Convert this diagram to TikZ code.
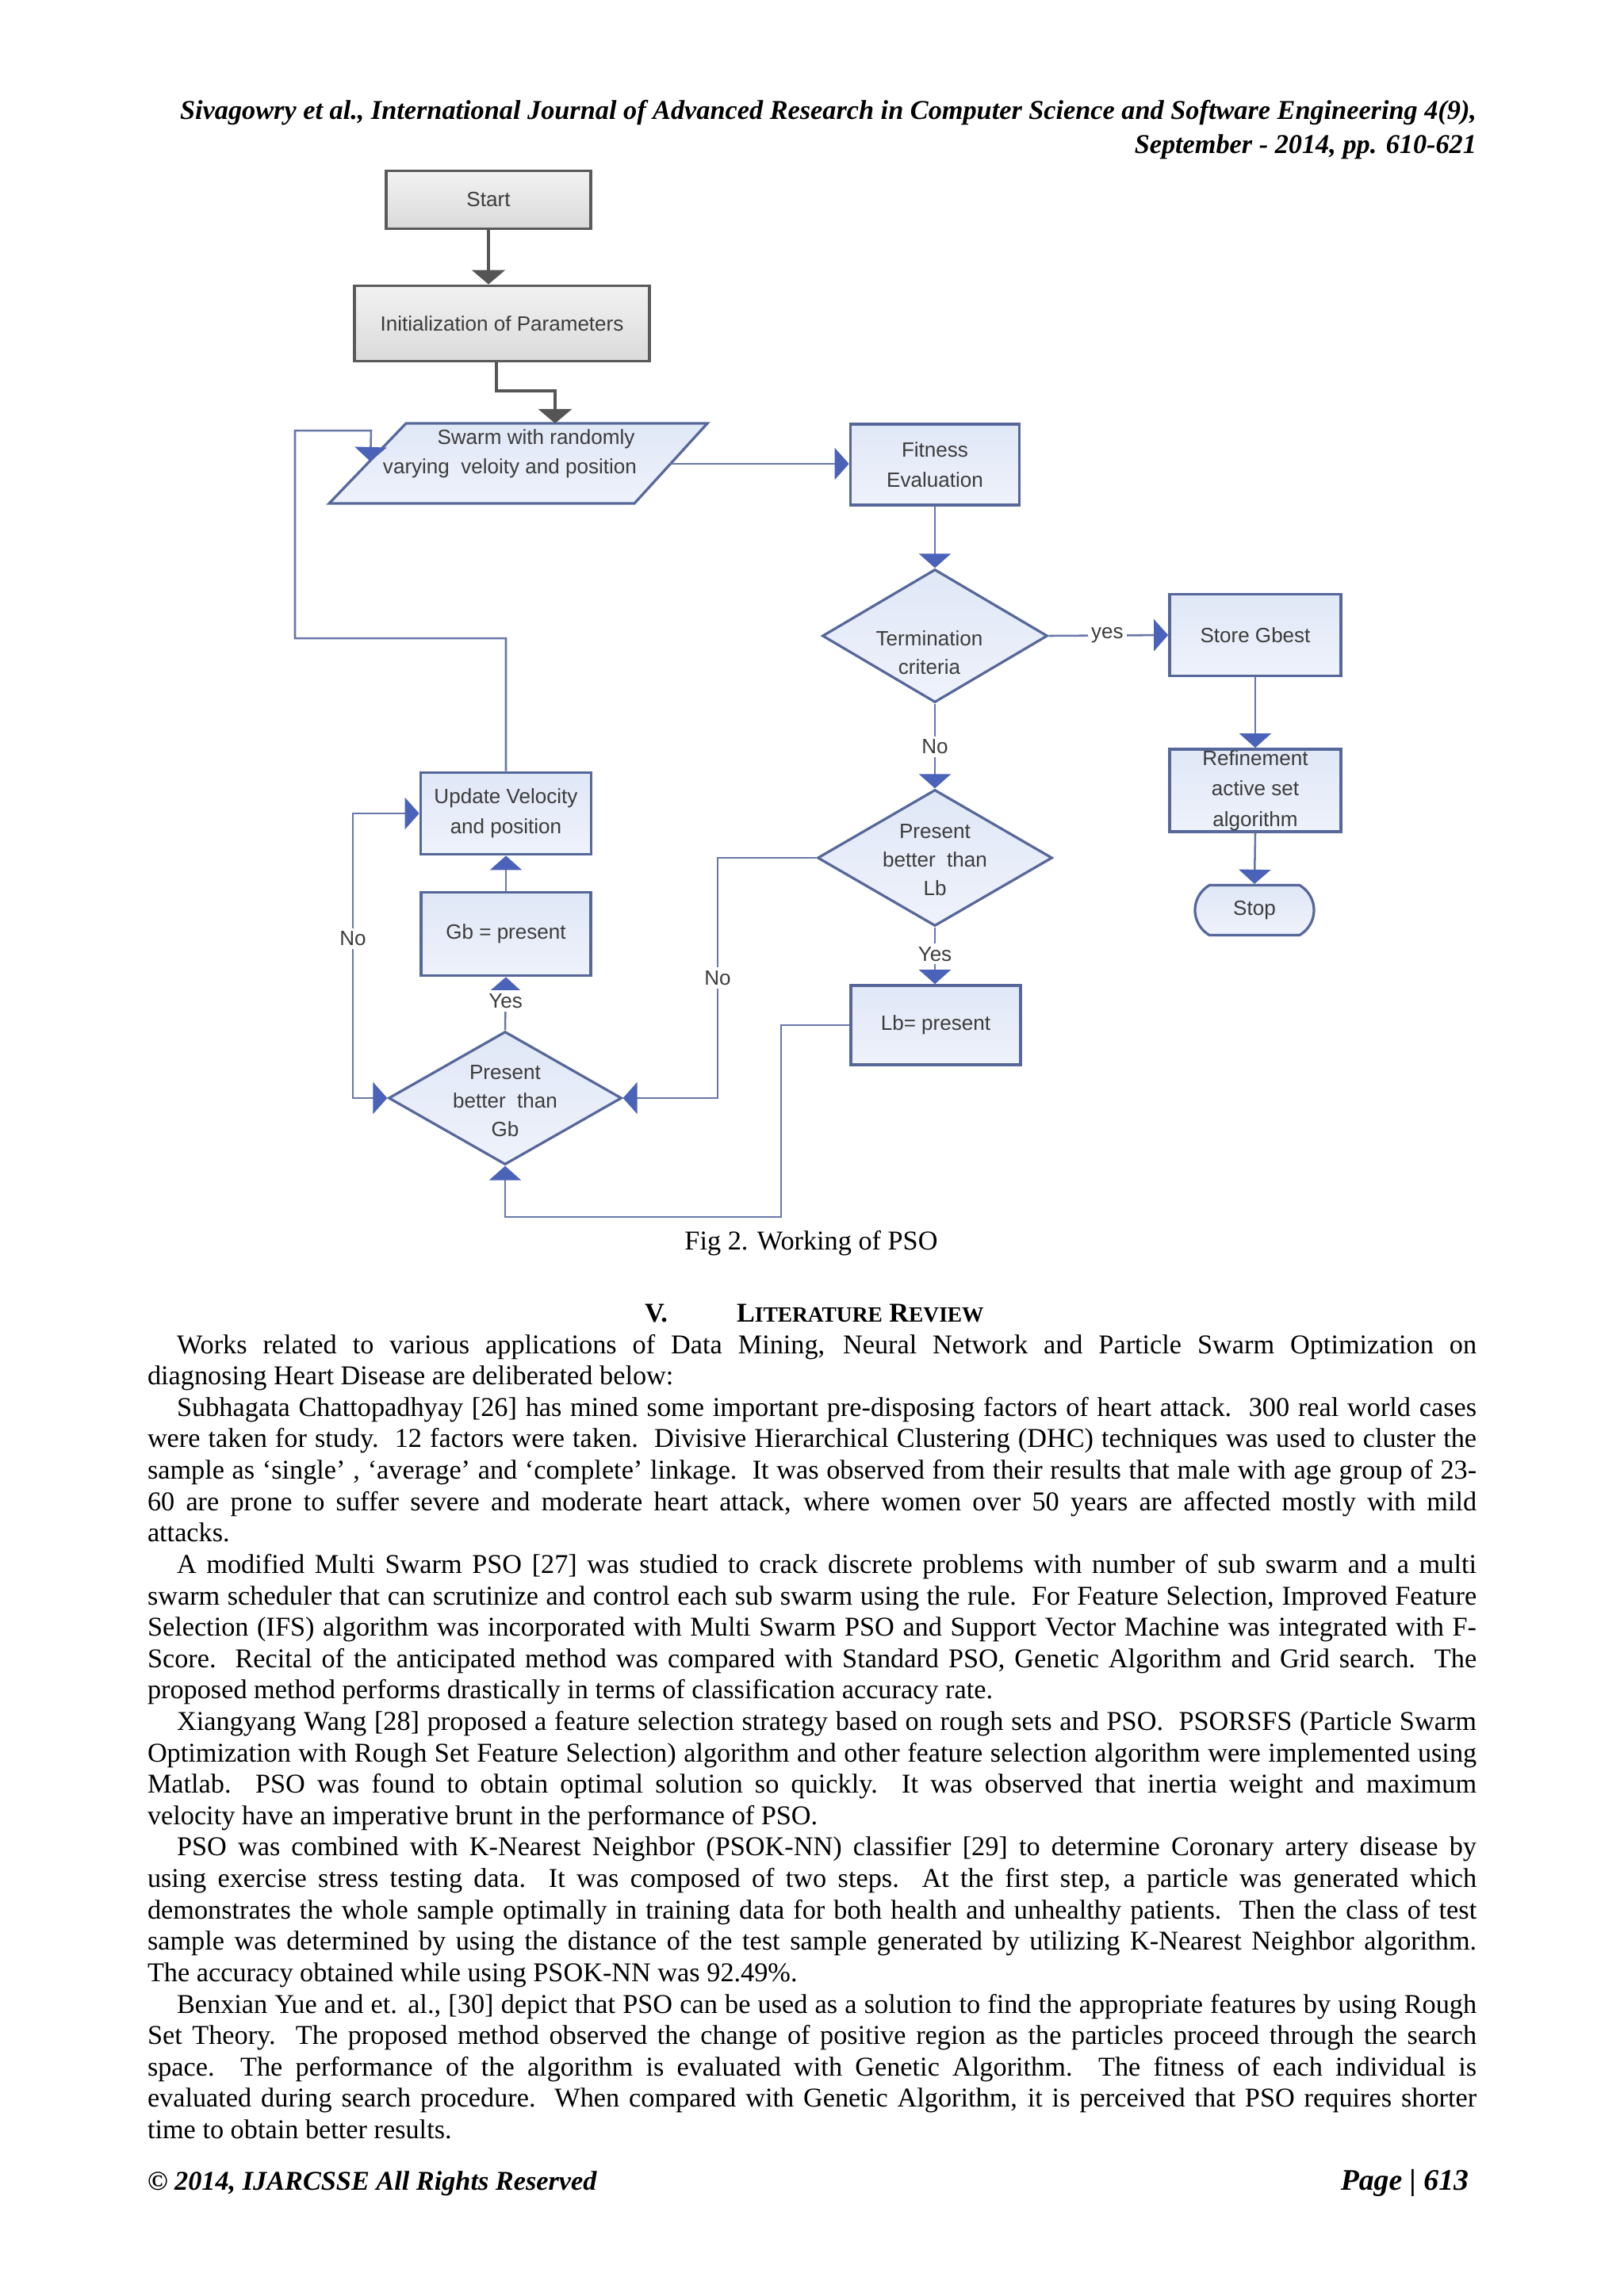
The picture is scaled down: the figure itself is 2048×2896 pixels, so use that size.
\documentclass[tikz,border=0pt]{standalone}
\usepackage{fontspec}
\setmainfont{Liberation Serif}
\newfontfamily\fcf{Liberation Sans}
\usetikzlibrary{arrows.meta,shapes.geometric,shapes.misc}
\definecolor{gborder}{HTML}{5A5A5A}
\definecolor{gtop}{HTML}{F2F2F2}
\definecolor{gbot}{HTML}{DADADA}
\definecolor{gline}{HTML}{555555}
\definecolor{bborder}{HTML}{56679A}
\definecolor{btop}{HTML}{E0E7F6}
\definecolor{bbot}{HTML}{EEF2FB}
\definecolor{clrline}{HTML}{6878A8}
\definecolor{tipblue}{HTML}{4A62B8}
\definecolor{ftxt}{HTML}{3C3C3C}
\newcommand\pxu{0.10254mm}
\newlength\pind \setlength\pind{3.8mm}
\newcommand\JL[1]{\hbox to\hsize{#1}}
\newcommand\IJL[1]{\hbox to\hsize{\hskip\pind #1}}
\newcommand\LL[1]{\hbox{#1}}
\newcommand\ILL[1]{\hbox{\hskip\pind #1}}
\tikzset{
  ft/.style={font=\fcf\fontsize{7.6}{10.5}\selectfont, text=ftxt, align=center},
  ftb/.style={font=\fcf\fontsize{7.6}{11.2}\selectfont, text=ftxt, align=center},
  gbox/.style={draw=gborder, line width=0.4mm, top color=gtop, bottom color=gbot, inner sep=0pt, ftb},
  bbox/.style={draw=bborder, line width=0.38mm, top color=btop, bottom color=bbot, inner sep=0pt, ftb},
  bdiam/.style={diamond, draw=bborder, line width=0.33mm, top color=btop, bottom color=bbot, inner sep=0pt},
  lbl/.style={ft, fill=white, inner sep=1.2pt},
  conn/.style={draw=clrline, line width=0.26mm},
  barrow/.style={conn, -{Triangle[width=4.1mm,length=1.85mm,color=tipblue]}},
  bboth/.style={conn, {Triangle[width=4.1mm,length=1.85mm,color=tipblue]}-{Triangle[width=4.1mm,length=1.85mm,color=tipblue]}},
  garrow/.style={draw=gline, line width=0.35mm, -{Triangle[width=4.3mm,length=1.85mm,color=gline]}},
  plain/.style={inner sep=0pt, outer sep=0pt},
}
\begin{document}
\begin{tikzpicture}[x=0.10254mm, y=-0.10254mm]
\useasboundingbox (0,0) rectangle (2048,2896);
\fill[white] (0,0) rectangle (2048,2896);

% header
\node[plain, anchor=base east, font=\bfseries\itshape\fontsize{10}{12}\selectfont] (hdr1) at (1862,150) {Sivagowry et al., International Journal of Advanced Research in Computer Science and Software Engineering 4(9),};
\node[plain, anchor=base east, font=\bfseries\itshape\fontsize{10}{12}\selectfont] (hdr2) at (1862,193) {September - 2014, pp. 610-621};

% flowchart nodes
\node[gbox, minimum width=258*\pxu, minimum height=73*\pxu] (start) at (616,252) {Start};
\node[gbox, minimum width=372*\pxu, minimum height=95*\pxu] (init) at (633,408) {Initialization of Parameters};

\shadedraw[draw=bborder, line width=0.33mm, top color=btop, bottom color=bbot] (415,635) -- (512,534) -- (892,534) -- (800,635) -- cycle;
\coordinate (swT) at (700,534);
\coordinate (swR) at (845,585);
\coordinate (swL) at (467,582);
\node[ft] (swarm1) at (676,554) {Swarm with randomly};
\node[ft] (swarm2) at (643,591) {varying\ \ veloity and position};

\node[bbox, minimum width=213*\pxu, minimum height=102*\pxu] (fit) at (1179,586) {Fitness\\Evaluation};
\node[bdiam, minimum width=284*\pxu, minimum height=168*\pxu] (term) at (1179,802) {};
\node[ft] (termtxt) at (1172,823) {Termination\\criteria};
\node[bbox, minimum width=216*\pxu, minimum height=103*\pxu] (store) at (1583,801) {Store Gbest};
\node[bbox, minimum width=216*\pxu, minimum height=104*\pxu] (refine) at (1583,997) {Refinement\\active set\\algorithm};
\node[rounded rectangle, rounded rectangle arc length=120, draw=bborder, line width=0.33mm, top color=btop, bottom color=bbot, inner sep=0pt, ft, minimum width=150*\pxu, minimum height=63*\pxu] (stop) at (1582,1148) {Stop};

\node[bdiam, minimum width=296*\pxu, minimum height=172*\pxu] (lbd) at (1179,1082) {};
\node[ft] (lbtxt) at (1179,1085) {Present\\better\ \ than\\Lb};
\node[bbox, minimum width=214*\pxu, minimum height=100*\pxu] (lbbox) at (1180,1293) {Lb= present};

\node[bbox, minimum width=215*\pxu, minimum height=103*\pxu] (update) at (638,1026) {Update Velocity\\and position};
\node[bbox, minimum width=214*\pxu, minimum height=105*\pxu] (gbbox) at (638,1178) {Gb = present};
\node[bdiam, minimum width=294*\pxu, minimum height=168*\pxu] (gbd) at (637,1385) {};
\node[ft] (gbtxt) at (637,1389) {Present\\better\ \ than\\Gb};

% connectors
\draw[garrow] (start.south) -- (start.south |- init.north);
\coordinate (c1) at (626,493);
\draw[garrow] (init.south -| c1) -- (c1) -| (swT);
\draw[barrow] (swR) -- (swR -| fit.west);
\draw[barrow] (fit.south) -- (term.north);
\draw[barrow] (term.east) -- node[lbl, pos=0.49] {yes} (store.west);
\draw[barrow] (store.south) -- (refine.north);
\draw[barrow] (refine.south) -- (stop.north);
\draw[barrow] (term.south) -- node[lbl, pos=0.51] {No} (lbd.north);
\draw[barrow] (lbd.south) -- node[lbl, pos=0.47] {Yes} (lbd.south |- lbbox.north);
\coordinate (nb) at (905,1385);
\draw[barrow] (lbd.west) -| node[lbl, pos=0.75] {No} (nb) -- (gbd.east);
\coordinate (lb1) at (985,1535);
\draw[barrow] (lbbox.west) -| (lb1) -| (gbd.south);
\draw[barrow] (gbd.north) -- node[lbl, pos=0.55] {Yes} (gbbox.south);
\draw[barrow] (gbbox.north) -- (update.south);
\coordinate (nl) at (445,1385);
\draw[bboth] (update.west) -| node[lbl, pos=0.72] {No} (nl) -- (gbd.west);
\coordinate (u1) at (372,805);
\coordinate (u2) at (468,543);
\draw[barrow] (update.north) |- (u1) |- (u2) -- (swL);

% caption and heading
\node[plain, anchor=base, font=\fontsize{10}{12}\selectfont] (cap) at (1023,1576) {Fig 2. Working of PSO};
\node[plain, anchor=base west, font=\bfseries\fontsize{10}{12}\selectfont] (secno) at (813,1667) {V.};
\node[plain, anchor=base west, font=\bfseries\fontsize{10}{12}\selectfont] (sectitle) at (929,1667) {L{\fontsize{8}{10}\selectfont ITERATURE} R{\fontsize{8}{10}\selectfont EVIEW}};

% body text
\node[plain, anchor=base west] (body) at (186,1707) {\vtop{\hsize=171.86mm \fontsize{10}{11.56}\selectfont \hbadness=10000
\IJL{Works related to various applications of Data Mining, Neural Network and Particle Swarm Optimization on}
\LL{diagnosing Heart Disease are deliberated below:}
\IJL{Subhagata Chattopadhyay [26] has mined some important pre-disposing factors of heart attack.\ \ 300 real world cases}
\JL{were taken for study.\ \ 12 factors were taken.\ \ Divisive Hierarchical Clustering (DHC) techniques was used to cluster the}
\JL{sample as ‘single’ , ‘average’ and ‘complete’ linkage.\ \ It was observed from their results that male with age group of 23-}
\JL{60 are prone to suffer severe and moderate heart attack, where women over 50 years are affected mostly with mild}
\LL{attacks.}
\IJL{A modified Multi Swarm PSO [27] was studied to crack discrete problems with number of sub swarm and a multi}
\JL{swarm scheduler that can scrutinize and control each sub swarm using the rule.\ \ For Feature Selection, Improved Feature}
\JL{Selection (IFS) algorithm was incorporated with Multi Swarm PSO and Support Vector Machine was integrated with F-}
\JL{Score.\ \ Recital of the anticipated method was compared with Standard PSO, Genetic Algorithm and Grid search.\ \ The}
\LL{proposed method performs drastically in terms of classification accuracy rate.}
\IJL{Xiangyang Wang [28] proposed a feature selection strategy based on rough sets and PSO.\ \ PSORSFS (Particle Swarm}
\JL{Optimization with Rough Set Feature Selection) algorithm and other feature selection algorithm were implemented using}
\JL{Matlab.\ \ PSO was found to obtain optimal solution so quickly.\ \ It was observed that inertia weight and maximum}
\LL{velocity have an imperative brunt in the performance of PSO.}
\IJL{PSO was combined with K-Nearest Neighbor (PSOK-NN) classifier [29] to determine Coronary artery disease by}
\JL{using exercise stress testing data.\ \ It was composed of two steps.\ \ At the first step, a particle was generated which}
\JL{demonstrates the whole sample optimally in training data for both health and unhealthy patients.\ \ Then the class of test}
\JL{sample was determined by using the distance of the test sample generated by utilizing K-Nearest Neighbor algorithm.}
\LL{The accuracy obtained while using PSOK-NN was 92.49\%.}
\IJL{Benxian Yue and et. al., [30] depict that PSO can be used as a solution to find the appropriate features by using Rough}
\JL{Set Theory.\ \ The proposed method observed the change of positive region as the particles proceed through the search}
\JL{space.\ \ The performance of the algorithm is evaluated with Genetic Algorithm.\ \ The fitness of each individual is}
\JL{evaluated during search procedure.\ \ When compared with Genetic Algorithm, it is perceived that PSO requires shorter}
\LL{time to obtain better results.}
}};

% footer
\node[plain, anchor=base west, font=\bfseries\itshape\fontsize{10}{12}\selectfont] (foot1) at (186,2762) {© 2014, IJARCSSE All Rights Reserved};
\node[plain, anchor=base east, font=\bfseries\itshape\fontsize{11}{13}\selectfont] (foot2) at (1852,2762) {Page | 613};
\end{tikzpicture}
\end{document}
